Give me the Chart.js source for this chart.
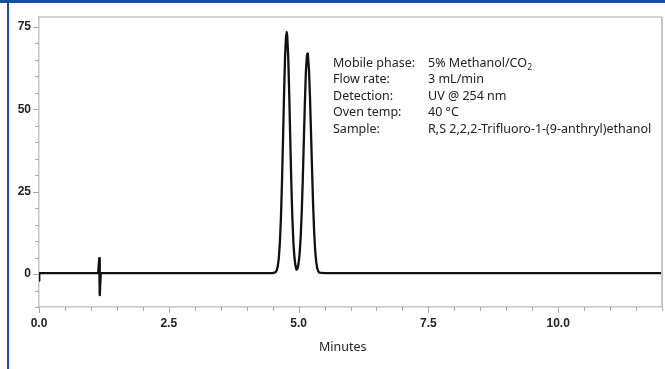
<!DOCTYPE html>
<html lang="en">
<head>
    <meta charset="UTF-8"/>
    <title>Chromatogram</title>
    <script src="https://cdn.jsdelivr.net/npm/chart.js"></script>
    <style>
        html, body {
            margin: 0;
            padding: 0;
            background: #fff;
            width: 665px;
            height: 369px;
            overflow: hidden;
        }
        .frame {
            position: relative;
            width: 665px;
            height: 369px;
        }
        .bar-top {
            position: absolute;
            left: 0; top: 0;
            width: 665px; height: 3px;
            background: #14509e;
        }
        .bar-left {
            position: absolute;
            left: 7px; top: 0;
            width: 2px; height: 369px;
            background: #14509e;
        }
        canvas {
            position: absolute;
            left: 0; top: 0;
        }
    </style>
</head>
<body>
<div class="frame">
    <canvas id="chroma" width="665" height="369"></canvas>
    <div class="bar-top"></div>
    <div class="bar-left"></div>
</div>

<script>
    // retention time (min) and detector response
    const timeMin = [0, 0.005, 0.5, 1.0, 1.14, 1.16, 1.17, 1.19, 1.3, 2.0, 3.0, 4.0, 4.5,
        4.56, 4.58, 4.60, 4.62, 4.64, 4.66, 4.68, 4.70, 4.72, 4.74, 4.76, 4.77, 4.78,
        4.80, 4.82, 4.84, 4.86, 4.88, 4.90, 4.92, 4.94, 4.96, 4.98, 5.00, 5.02, 5.04,
        5.06, 5.08, 5.10, 5.12, 5.14, 5.16, 5.17, 5.18, 5.20, 5.22, 5.24, 5.26, 5.28,
        5.30, 5.32, 5.34, 5.36, 5.38, 5.40, 5.5, 6.0, 7.0, 8.0, 9.0, 10.0, 11.0, 12.0];
    const signal = [-2, 0.3, 0.3, 0.3, 0.3, 4.8, -6.4, 0.3, 0.3, 0.3, 0.3, 0.3, 0.3,
        0.6, 1.2, 2.4, 5.0, 9.6, 17.1, 27.6, 40.7, 54.5, 66.2, 72.5, 73.4, 72.5,
        66.2, 54.5, 40.7, 27.6, 17.1, 9.6, 5.1, 2.5, 1.3, 1.6, 3.2, 6.2, 11.1,
        18.4, 28.2, 39.7, 51.4, 61.1, 66.2, 66.9, 66.4, 62.0, 53.5, 42.5, 31.5, 21.0,
        12.8, 7.0, 3.6, 1.7, 0.8, 0.4, 0.3, 0.3, 0.3, 0.3, 0.3, 0.3, 0.3, 0.3];

    // axis ticks: labelled majors plus unlabelled minors
    const xTickValues = [0, 0.5, 1, 1.5, 2, 2.5, 3, 3.5, 4, 4.5, 5, 5.5, 6, 6.5, 7, 7.5,
        8, 8.5, 9, 9.5, 10, 10.5, 11, 11.5, 12];
    const xTickLabels = ['0.0', '2.5', '5.0', '7.5', '10.0'];
    const yTickValues = [-10, -5, 0, 5, 10, 15, 20, 25, 30, 35, 40, 45, 50, 55, 60, 65, 70, 75];
    const yTickLabels = ['0', '25', '50', '75'];

    const conditionLabels = ['Mobile phase:', 'Flow rate:', 'Detection:', 'Oven temp:', 'Sample:'];
    const conditionValues = ['5% Methanol/CO', '3 mL/min', 'UV @ 254 nm', '40 \u00B0C',
        'R,S 2,2,2-Trifluoro-1-(9-anthryl)ethanol'];

    const points = timeMin.map((t, i) => ({x: t, y: signal[i]}));

    const textFont = '"Noto Sans", "Open Sans", sans-serif';
    const tickFont = {family: '"Liberation Sans", Arial, sans-serif', size: 12, weight: 'bold'};

    function xLabel(v) {
        const s = v.toFixed(1);
        return xTickLabels.includes(s) ? s : '';
    }
    function yLabel(v) {
        const s = String(v);
        return yTickLabels.includes(s) ? s : '';
    }

    // frame, tick marks, x title and the run conditions
    const decorPlugin = {
        id: 'decor',
        afterDraw(chart) {
            const c = chart.ctx;
            const a = chart.chartArea;
            const xs = chart.scales.x;
            const ys = chart.scales.y;

            c.save();
            c.strokeStyle = '#c4c4c4';
            c.lineWidth = 1.5;
            c.beginPath();
            c.moveTo(a.left, a.top);
            c.lineTo(a.right, a.top);
            c.stroke();
            c.lineWidth = 2;
            c.beginPath();
            c.moveTo(a.right, a.top);
            c.lineTo(a.right, a.bottom);
            c.stroke();

            c.strokeStyle = '#a8a8a8';
            c.lineWidth = 1;
            xs.ticks.forEach(t => {
                const px = Math.round(xs.getPixelForValue(t.value)) + 0.5;
                const len = xLabel(t.value) ? 6 : 4;
                c.beginPath();
                c.moveTo(px, a.bottom);
                c.lineTo(px, a.bottom + len);
                c.stroke();
            });
            ys.ticks.forEach(t => {
                const py = Math.round(ys.getPixelForValue(t.value)) + 0.5;
                const len = yLabel(t.value) ? 6 : 4;
                c.beginPath();
                c.moveTo(a.left - len, py);
                c.lineTo(a.left, py);
                c.stroke();
            });

            c.fillStyle = '#222';
            c.font = '12.5px ' + textFont;
            c.textAlign = 'center';
            c.textBaseline = 'middle';
            c.fillText('Minutes', xs.getPixelForValue(5.85), 347);

            c.textAlign = 'left';
            const x0 = 333, x1 = 428, y0 = 63, dy = 16.5;
            conditionLabels.forEach((lab, i) => {
                c.fillText(lab, x0, y0 + i * dy);
                c.fillText(conditionValues[i], x1, y0 + i * dy);
            });
            const w = c.measureText(conditionValues[0]).width;
            c.font = '8px ' + textFont;
            c.fillText('2', x1 + w + 0.5, y0 + 5);
            c.restore();
        }
    };

    const ctx = document.getElementById('chroma').getContext('2d');

    new Chart(ctx, {
        type: 'line',
        data: {
            datasets: [{
                data: points,
                borderColor: '#111',
                borderWidth: 2.3,
                borderJoinStyle: 'round',
                pointRadius: 0,
                tension: 0,
                fill: false
            }]
        },
        options: {
            responsive: false,
            animation: false,
            events: [],
            layout: {padding: {top: 17, right: 3, left: 0, bottom: 0}},
            plugins: {
                legend: {display: false},
                tooltip: {enabled: false}
            },
            scales: {
                x: {
                    type: 'linear',
                    min: 0,
                    max: 12,
                    afterBuildTicks(s) { s.ticks = xTickValues.map(v => ({value: v})); },
                    afterFit(s) { s.height = 62; s.paddingLeft = 0; s.paddingRight = 0; },
                    grid: {display: false, drawTicks: false},
                    border: {display: true, color: '#c4c4c4', width: 1.5},
                    ticks: {
                        autoSkip: false,
                        maxRotation: 0,
                        padding: 9,
                        color: '#222',
                        font: tickFont,
                        callback: v => xLabel(v)
                    }
                },
                y: {
                    min: -10,
                    max: 78,
                    afterBuildTicks(s) { s.ticks = yTickValues.map(v => ({value: v})); },
                    afterFit(s) { s.width = 39; s.paddingTop = 0; s.paddingBottom = 0; },
                    grid: {display: false, drawTicks: false},
                    border: {display: true, color: '#c4c4c4', width: 1.5},
                    ticks: {
                        autoSkip: false,
                        padding: 8,
                        color: '#222',
                        font: tickFont,
                        callback: v => yLabel(v)
                    }
                }
            }
        },
        plugins: [decorPlugin]
    });
</script>
</body>
</html>
